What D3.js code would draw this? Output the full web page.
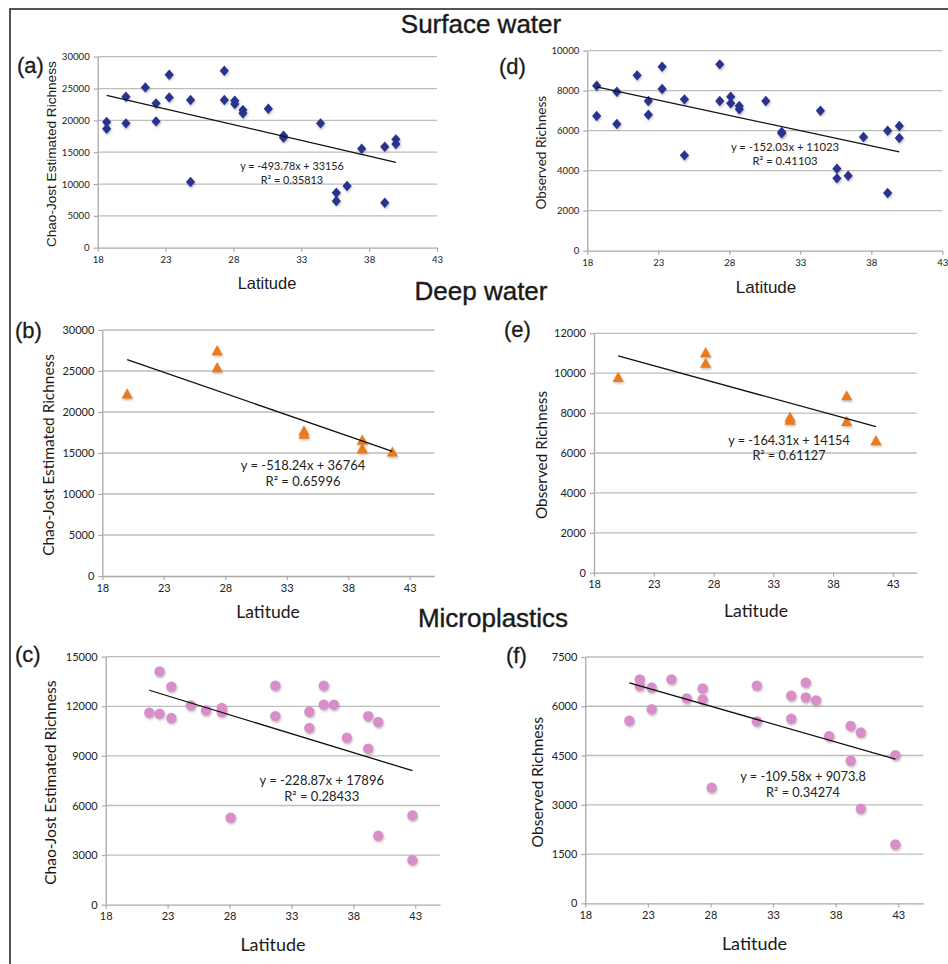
<!DOCTYPE html>
<html>
<head>
<meta charset="utf-8">
<script src="https://cdn.jsdelivr.net/npm/d3@7"></script>
<style>
  body { margin: 0; background: #fff; }
  svg { display: block; }
</style>
</head>
<body>
<div id="fig"></div>
<script>
var width = 948;
var height = 964;

// latitudes of the samples (shared by the two panels of each row)
var surfaceLat = [18.66, 18.66, 20.08, 20.08, 21.51, 22.3, 22.3, 23.27, 23.27, 24.84, 24.84, 27.33, 27.33, 28.1, 28.1,
  28.7, 28.7, 30.57, 31.69, 31.69, 34.42, 35.58, 35.58, 36.37, 37.45, 39.15, 39.15, 39.97, 39.97];
var surfaceChao = [19740, 18690, 23720, 19530, 25180, 22670, 19840, 27170, 23610, 23200, 10310, 27800, 23200, 23090, 22570,
  21620, 21100, 21830, 17600, 17300, 19530, 8640, 7330, 9690, 15550, 15860, 7070, 17020, 16280];
var surfaceObs = [8250, 6733, 7950, 6333, 8767, 7483, 6800, 9200, 8083, 7567, 4767, 9317, 7483, 7700, 7367,
  7233, 7067, 7483, 5933, 5867, 7000, 4100, 3617, 3750, 5683, 6000, 2883, 6233, 5633];

var deepLat = [20.02, 27.34, 27.34, 34.4, 34.4, 39.14, 39.14, 41.59];
var deepChao = [22200, 27480, 25400, 17700, 17300, 16580, 15530, 15120];
var deepObs = [9790, 11030, 10500, 7800, 7650, 8870, 7590, 6620];

var microLat = [21.52, 22.35, 22.35, 23.3, 23.3, 24.88, 26.1, 27.38, 27.38, 28.09, 31.7, 31.7, 34.45, 34.45, 35.61, 35.61,
  36.43, 37.48, 39.2, 39.2, 40.01, 40.01, 42.77, 42.77];
var microChao = [11610, 14110, 11550, 13190, 11290, 12060, 11750, 11900, 11650, 5260, 13250, 11410, 11670, 10690, 13250, 12100,
  12100, 10100, 11410, 9440, 11050, 4170, 5400, 2700];
var microObs = [5560, 6820, 6620, 6570, 5910, 6820, 6240, 6540, 6210, 3520, 6630, 5540, 6320, 5620, 6720, 6270,
  6180, 5090, 5400, 4340, 5200, 2880, 4510, 1790];

// trend lines: [slope, intercept, R2]
var fitA = [-493.78, 33156, "0.35813"];
var fitD = [-152.03, 11023, "0.41103"];
var fitB = [-518.24, 36764, "0.65996"];
var fitE = [-164.31, 14154, "0.61127"];
var fitC = [-228.87, 17896, "0.28433"];
var fitF = [-109.58, 9073.8, "0.34274"];

var xTicks = [18, 23, 28, 33, 38, 43];
var sectionTitles = ["Surface water", "Deep water", "Microplastics"];

var svg = d3.select("#fig").append("svg")
    .attr("width", width)
    .attr("height", height);

var defs = svg.append("defs");
defs.append("filter").attr("id", "shadow")
    .attr("x", "-50%").attr("y", "-50%").attr("width", "200%").attr("height", "200%")
    .append("feGaussianBlur").attr("stdDeviation", 0.9);

// frame
svg.append("rect")
    .attr("x", 10).attr("y", 9)
    .attr("width", 960).attr("height", 980)
    .attr("fill", "none")
    .attr("stroke", "#2b2b2b")
    .attr("stroke-width", 1.6);

var helv = "'Liberation Sans', Arial, sans-serif";
var calib = "Lato, 'Open Sans', sans-serif";

svg.selectAll(".section")
    .data(sectionTitles)
    .enter().append("text")
    .attr("x", function (d, i) { return [481, 481, 493][i]; })
    .attr("y", function (d, i) { return [33, 300, 627][i]; })
    .attr("text-anchor", "middle")
    .style("font-family", helv)
    .style("font-size", "26px")
    .style("fill", "#1a1a1a")
    .style("stroke", "#1a1a1a")
    .style("stroke-width", 0.4)
    .text(function (d) { return d; });

// custom marker shapes
var diamond = {
  draw: function (ctx, size) {
    ctx.moveTo(0, -5.2); ctx.lineTo(4.6, 0); ctx.lineTo(0, 5.2); ctx.lineTo(-4.6, 0); ctx.closePath();
  }
};
var triangle = {
  draw: function (ctx, size) {
    ctx.moveTo(0, -5.6); ctx.lineTo(5.6, 4.6); ctx.lineTo(-5.6, 4.6); ctx.closePath();
  }
};

var panels = [
  { label: "(a)", lx: 17, ly: 73, lat: surfaceLat, val: surfaceChao, fit: fitA, marker: "diamond", color: "#27338f",
    left: 97.7, right: 437, top: 56.7, bottom: 247.7, xmax: 43, ymax: 30000, ystep: 5000,
    tickFont: 9.6, yTitle: "Chao-Jost Estimated Richness", yTitleX: 51, yTitleFont: 13.6, yTitleFam: helv,
    xTitleX: 267, xTitleY: 289, xTitleFont: 16.5, xTitleFam: helv, eqX: 292, eqY: 170, eqFont: 10.8 },
  { label: "(d)", lx: 499, ly: 74, lat: surfaceLat, val: surfaceObs, fit: fitD, marker: "diamond", color: "#27338f",
    left: 587.3, right: 942.3, top: 50.7, bottom: 250.7, xmax: 43, ymax: 10000, ystep: 2000,
    tickFont: 9.6, yTitle: "Observed Richness", yTitleX: 541, yTitleFont: 13.6, yTitleFam: calib,
    xTitleX: 766, xTitleY: 293, xTitleFont: 17, xTitleFam: helv, eqX: 785, eqY: 150.5, eqFont: 11.3 },
  { label: "(b)", lx: 15, ly: 338, lat: deepLat, val: deepChao, fit: fitB, marker: "triangle", color: "#ec7a1c",
    left: 102.3, right: 434.3, top: 330, bottom: 576, xmax: 45, ymax: 30000, ystep: 5000,
    tickFont: 11, yTitle: "Chao-Jost Estimated Richness", yTitleX: 48.5, yTitleFont: 15.4, yTitleFam: calib,
    xTitleX: 268, xTitleY: 618, xTitleFont: 17.5, xTitleFam: calib, eqX: 303, eqY: 470, eqFont: 13 },
  { label: "(e)", lx: 504, ly: 337, lat: deepLat, val: deepObs, fit: fitE, marker: "triangle", color: "#ec7a1c",
    left: 594, right: 916.7, top: 333.3, bottom: 572.7, xmax: 45, ymax: 12000, ystep: 2000,
    tickFont: 11, yTitle: "Observed Richness", yTitleX: 541.5, yTitleFont: 15.3, yTitleFam: calib,
    xTitleX: 756, xTitleY: 617, xTitleFont: 17.7, xTitleFam: calib, eqX: 789, eqY: 444.5, eqFont: 12.7 },
  { label: "(c)", lx: 15, ly: 662, lat: microLat, val: microChao, fit: fitC, marker: "circle", color: "#d98ec9",
    left: 105.7, right: 440, top: 656.7, bottom: 904.7, xmax: 45, ymax: 15000, ystep: 3000,
    tickFont: 11, yTitle: "Chao-Jost Estimated Richness", yTitleX: 50.7, yTitleFont: 15.6, yTitleFam: calib,
    xTitleX: 273, xTitleY: 951, xTitleFont: 18, xTitleFam: calib, eqX: 321.7, eqY: 785, eqFont: 13 },
  { label: "(f)", lx: 506, ly: 663, lat: microLat, val: microObs, fit: fitF, marker: "circle", color: "#d98ec9",
    left: 585.3, right: 923.3, top: 657, bottom: 903.3, xmax: 45, ymax: 7500, ystep: 1500,
    tickFont: 11, yTitle: "Observed Richness", yTitleX: 537.7, yTitleFont: 15.6, yTitleFam: calib,
    xTitleX: 754.5, xTitleY: 950, xTitleFont: 18, xTitleFam: calib, eqX: 803, eqY: 781, eqFont: 12.8 }
];

panels.forEach(function (p) {
  var x = d3.scaleLinear().domain([18, p.xmax]).range([p.left, p.right]);
  var y = d3.scaleLinear().domain([0, p.ymax]).range([p.bottom, p.top]);
  var yTicks = d3.range(0, p.ymax + 1, p.ystep);
  var g = svg.append("g");

  // gridlines
  g.selectAll(".grid")
    .data(yTicks.filter(function (d) { return d > 0; }))
    .enter().append("line")
      .attr("x1", p.left).attr("x2", p.right)
      .attr("y1", function (d) { return y(d); })
      .attr("y2", function (d) { return y(d); })
      .attr("stroke", "#bdbdbd")
      .attr("stroke-width", 1.3);

  var xAxis = g.append("g")
      .attr("transform", "translate(0," + p.bottom + ")")
      .call(d3.axisBottom(x).tickValues(xTicks).tickFormat(d3.format("d"))
        .tickSize(4).tickPadding(4).tickSizeOuter(0));
  var yAxis = g.append("g")
      .attr("transform", "translate(" + p.left + ",0)")
      .call(d3.axisLeft(y).tickValues(yTicks).tickFormat(d3.format("d"))
        .tickSize(4).tickPadding(4).tickSizeOuter(0));
  [xAxis, yAxis].forEach(function (ax) {
    ax.select(".domain").attr("stroke", "#a9a9a9").attr("stroke-width", 1.3);
    ax.selectAll(".tick line").attr("stroke", "#a9a9a9").attr("stroke-width", 1.2);
    ax.selectAll(".tick text")
      .style("font-family", calib)
      .style("font-size", p.tickFont + "px")
      .style("fill", "#222");
  });

  // markers (shadow first)
  var pts = p.lat.map(function (d, i) { return { lat: d, v: p.val[i] }; });
  var shape = p.marker === "diamond" ? diamond : p.marker === "triangle" ? triangle : d3.symbolCircle;
  var sym = d3.symbol().type(shape).size(p.marker === "circle" ? 84 : 64);

  g.selectAll(".shadow")
    .data(pts)
    .enter().append("path")
      .attr("d", sym)
      .attr("transform", function (d) { return "translate(" + (x(d.lat) + 0.8) + "," + (y(d.v) + 1.6) + ")"; })
      .attr("fill", "#777")
      .attr("opacity", 0.45)
      .attr("filter", "url(#shadow)");

  g.selectAll(".mark")
    .data(pts)
    .enter().append("path")
      .attr("d", sym)
      .attr("transform", function (d) { return "translate(" + x(d.lat) + "," + y(d.v) + ")"; })
      .attr("fill", p.color);

  // trend line over the data range
  var ext = d3.extent(p.lat);
  g.append("line")
    .attr("x1", x(ext[0])).attr("y1", y(p.fit[0] * ext[0] + p.fit[1]))
    .attr("x2", x(ext[1])).attr("y2", y(p.fit[0] * ext[1] + p.fit[1]))
    .attr("stroke", "#111")
    .attr("stroke-width", 1.3);

  // equation
  var eq = g.append("text")
    .attr("x", p.eqX).attr("y", p.eqY)
    .attr("text-anchor", "middle")
    .style("font-family", calib)
    .style("font-size", p.eqFont + "px")
    .style("fill", "#222");
  eq.append("tspan").attr("x", p.eqX).text("y = " + p.fit[0] + "x + " + p.fit[1]);
  eq.append("tspan").attr("x", p.eqX).attr("dy", "1.25em").text("R² = " + p.fit[2]);

  // axis titles
  g.append("text")
    .attr("transform", "translate(" + p.yTitleX + "," + ((p.top + p.bottom) / 2 + 2) + ") rotate(-90)")
    .attr("text-anchor", "middle")
    .attr("dy", "0.35em")
    .style("font-family", p.yTitleFam)
    .style("font-size", p.yTitleFont + "px")
    .style("fill", "#1a1a1a")
    .text(p.yTitle);

  g.append("text")
    .attr("x", p.xTitleX).attr("y", p.xTitleY)
    .attr("text-anchor", "middle")
    .style("font-family", p.xTitleFam)
    .style("font-size", p.xTitleFont + "px")
    .style("fill", "#1a1a1a")
    .text("Latitude");

  // panel letter
  g.append("text")
    .attr("x", p.lx).attr("y", p.ly)
    .style("font-family", helv)
    .style("font-size", "22px")
    .style("fill", "#1a1a1a")
    .style("stroke", "#1a1a1a")
    .style("stroke-width", 0.3)
    .text(p.label);
});
</script>
</body>
</html>
